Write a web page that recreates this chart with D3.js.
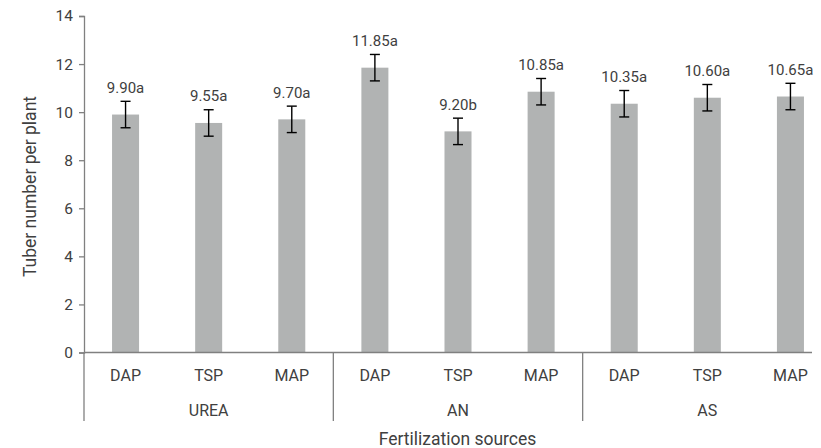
<!DOCTYPE html>
<html>
<head>
<meta charset="utf-8">
<script src="https://cdn.jsdelivr.net/npm/d3@7"></script>
<style>
  body { margin: 0; background: #fff; }
  text { font-family: Roboto, "Liberation Sans", Arial, sans-serif; fill: #404040; }
</style>
</head>
<body>
<div id="chart"></div>
<script>
// podatki
const groups = ["UREA", "AN", "AS"];
const sources = ["DAP", "TSP", "MAP"];
const values = [9.90, 9.55, 9.70, 11.85, 9.20, 10.85, 10.35, 10.60, 10.65];
const errors = [0.55, 0.55, 0.55, 0.55, 0.55, 0.55, 0.55, 0.55, 0.55];
const letters = ["a", "a", "a", "a", "b", "a", "a", "a", "a"];
const yTicks = [0, 2, 4, 6, 8, 10, 12, 14];

const width = 821, height = 448;
const x0 = 84, x1 = 832, yTop = 16, yBottom = 352.5;

const svg = d3.select("#chart")
    .append("svg")
    .attr("width", width)
    .attr("height", height);

// skale
const keys = values.map((d, i) => i);
const x = d3.scaleBand()
    .domain(keys)
    .range([x0, x1])
    .paddingInner(0.675)
    .paddingOuter(0.3375);

const y = d3.scaleLinear()
    .domain([0, 14])
    .range([yBottom, yTop]);

// y os
const yAxis = svg.append("g")
    .attr("transform", `translate(${x0},0)`)
    .call(d3.axisLeft(y).tickValues(yTicks).tickSize(5).tickPadding(6));
yAxis.select(".domain").attr("stroke", "#808080").attr("stroke-width", 1.3);
yAxis.selectAll(".tick line").attr("stroke", "#808080").attr("stroke-width", 1.3);
yAxis.selectAll(".tick text")
    .style("font-size", "15.5px")
    .style("font-family", "Roboto, sans-serif")
    .attr("fill", "#404040");

// stolpci
svg.append("g")
    .selectAll("rect")
    .data(values)
    .enter()
    .append("rect")
    .attr("x", (d, i) => x(i))
    .attr("y", d => y(d))
    .attr("width", x.bandwidth())
    .attr("height", d => y(0) - y(d))
    .attr("fill", "#b1b3b3");

// napake
const err = svg.append("g").attr("stroke", "#000").attr("stroke-width", 1.4);
values.forEach((v, i) => {
    const cx = x(i) + x.bandwidth() / 2;
    err.append("line").attr("x1", cx).attr("x2", cx)
        .attr("y1", y(v + errors[i])).attr("y2", y(v - errors[i]));
    err.append("line").attr("x1", cx - 5).attr("x2", cx + 5)
        .attr("y1", y(v + errors[i])).attr("y2", y(v + errors[i]));
    err.append("line").attr("x1", cx - 5).attr("x2", cx + 5)
        .attr("y1", y(v - errors[i])).attr("y2", y(v - errors[i]));
});

// oznake vrednosti
svg.append("g")
    .selectAll("text")
    .data(values)
    .enter()
    .append("text")
    .attr("x", (d, i) => x(i) + x.bandwidth() / 2)
    .attr("y", (d, i) => y(d + errors[i]) - 8.5)
    .attr("text-anchor", "middle")
    .style("font-size", "15px")
    .text((d, i) => d.toFixed(2) + letters[i]);

// x os
const step = x.step();
svg.append("line")
    .attr("x1", x0).attr("x2", 812)
    .attr("y1", yBottom).attr("y2", yBottom)
    .attr("stroke", "#808080").attr("stroke-width", 1.3);

svg.append("g")
    .selectAll("text")
    .data(values)
    .enter()
    .append("text")
    .attr("x", (d, i) => x(i) + x.bandwidth() / 2)
    .attr("y", 381)
    .attr("text-anchor", "middle")
    .style("font-size", "16px")
    .text((d, i) => sources[i % sources.length]);

// ločila skupin
const sep = [0, 1, 2].map(g => x0 + g * step * sources.length);
svg.append("g")
    .selectAll("line")
    .data(sep)
    .enter()
    .append("line")
    .attr("x1", d => d).attr("x2", d => d)
    .attr("y1", yBottom).attr("y2", 421)
    .attr("stroke", "#808080").attr("stroke-width", 1.3);

svg.append("g")
    .selectAll("text")
    .data(groups)
    .enter()
    .append("text")
    .attr("x", (d, g) => x(g * 3 + 1) + x.bandwidth() / 2)
    .attr("y", 415.5)
    .attr("text-anchor", "middle")
    .style("font-size", "16px")
    .text(d => d);

// naslovi osi
svg.append("text")
    .attr("x", 457.5)
    .attr("y", 444.5)
    .attr("text-anchor", "middle")
    .style("font-size", "17.5px")
    .text("Fertilization sources");

svg.append("text")
    .attr("transform", "rotate(-90)")
    .attr("x", -186.5)
    .attr("y", 36)
    .attr("text-anchor", "middle")
    .style("font-size", "17.5px")
    .text("Tuber number per plant");
</script>
</body>
</html>
